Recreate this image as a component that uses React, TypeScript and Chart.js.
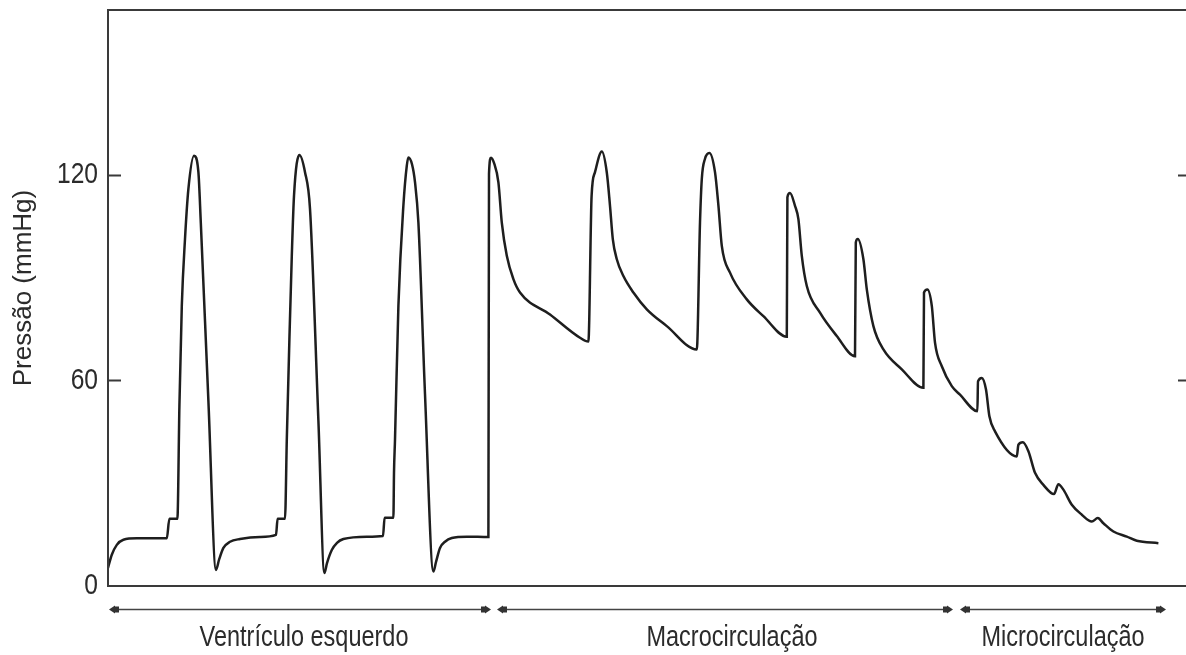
import React, { useEffect, useRef } from "react";
import { Chart, registerables } from "chart.js";

Chart.register(...registerables);

// time in ms, pressure in mmHg
const lvTime = [0, 19, 44, 77, 144, 294, 307, 347, 357, 369, 385, 402, 430, 452, 464, 502, 540, 555, 577, 610, 660, 760, 840, 848, 885, 894, 907, 919, 930, 957, 985, 1010, 1052, 1082, 1095, 1119, 1145, 1177, 1294, 1375, 1383, 1427, 1430, 1435, 1452, 1477, 1494, 1502, 1520, 1535, 1552, 1585, 1627, 1640, 1660, 1685, 1719, 1794, 1902];
const lvPressure = [5.3, 9.1, 12.0, 13.5, 13.9, 13.9, 19.6, 19.6, 52.4, 81.7, 101.2, 115.8, 125.5, 120.7, 106, 54, 4.7, 7.6, 11.1, 12.9, 13.7, 14.3, 14.9, 19.6, 19.6, 42.7, 72, 96.3, 113.8, 125.7, 120.7, 110, 48.2, 3.8, 6.7, 10.5, 12.6, 13.7, 14.4, 14.6, 19.9, 19.9, 33, 42.7, 81.7, 111, 122.6, 125, 123, 117.8, 106, 56, 4.2, 7, 11.1, 12.9, 14, 14.4, 14.3];

const macroTime = [1905, 1915, 1930, 1952, 1969, 1994, 2027, 2060, 2210, 2360, 2402, 2418, 2435, 2469, 2494, 2510, 2524, 2544, 2577, 2627, 2694, 2794, 2944, 2960, 2969, 2985, 3007, 3035, 3052, 3069, 3110, 3194, 3277, 3394, 3397, 3410, 3435, 3452, 3469, 3494, 3560, 3644, 3735, 3739, 3749, 3777, 3794, 3827, 3877, 3969, 4077, 4080, 4097, 4119, 4135, 4169, 4219, 4260];
const macroPressure = [120.2, 124.9, 123.4, 117.7, 106, 96.3, 89.5, 85.6, 79.2, 72.4, 71.3, 113.8, 120.7, 126.7, 120.6, 110.9, 101.2, 95.3, 90.4, 85.6, 80.7, 75.8, 69, 106, 118.7, 124.6, 126.3, 120.7, 111, 99.2, 91.4, 83.6, 78.7, 72.7, 113.4, 114.6, 110.9, 107, 96.3, 87.5, 79.7, 72.9, 67, 100.2, 101.2, 95.3, 86.5, 75.8, 69, 63.2, 57.8, 85.6, 86.5, 81.7, 71, 64.1, 58.3, 55.8];

const microTime = [4347, 4350, 4369, 4390, 4407, 4435, 4544, 4552, 4574, 4602, 4635, 4677, 4730, 4752, 4777, 4819, 4869, 4919, 4949, 4977, 5027, 5094, 5144, 5252];
const microPressure = [51, 59.7, 60.7, 57.3, 49.5, 45.1, 37.8, 41.2, 41.9, 39.3, 33, 29.5, 26.8, 29.7, 28.1, 23.7, 20.8, 18.8, 19.8, 18.3, 15.9, 14.4, 13.2, 12.5];

const yTicks = [0, 60, 120];
const yTitle = "Pressão (mmHg)";
const regionLabels = ["Ventrículo esquerdo", "Macrocirculação", "Microcirculação"];
const regionStart = [5, 1945, 4260];
const regionEnd = [1915, 4225, 5290];
const regionLabelCenter = [980, 3120, 4775];

const SANS = "'Liberation Sans', Arial, sans-serif";
const TEXT = "#2b2b2b";

function arrowHead(ctx: CanvasRenderingContext2D, tipX: number, y: number, dir: number) {
  ctx.beginPath();
  ctx.moveTo(tipX, y);
  ctx.lineTo(tipX - dir * 6, y - 4);
  ctx.lineTo(tipX - dir * 6, y + 4);
  ctx.closePath();
  ctx.fill();
  const rx = dir < 0 ? tipX + 5 : tipX - 10;
  ctx.fillRect(rx, y - 3, 5, 6);
}

function narrowText(ctx: CanvasRenderingContext2D, text: string, x: number, y: number, size: number, align: CanvasTextAlign, baseline: CanvasTextBaseline, squeeze: number) {
  ctx.save();
  ctx.translate(x, y);
  ctx.scale(squeeze, 1);
  ctx.font = `${size}px ${SANS}`;
  ctx.fillStyle = TEXT;
  ctx.textAlign = align;
  ctx.textBaseline = baseline;
  ctx.fillText(text, 0, 0);
  ctx.restore();
}

const framePlugin = {
  id: "frame",
  afterDraw(chart: any) {
    const { ctx, chartArea, scales } = chart;
    const { left, right, top, bottom } = chartArea;
    const x = scales.x;
    const y = scales.y;
    ctx.save();
    ctx.strokeStyle = "#3a3a3a";
    ctx.lineWidth = 2;
    ctx.beginPath();
    ctx.moveTo(left, top);
    ctx.lineTo(right, top);
    ctx.lineTo(right, bottom);
    ctx.lineTo(left, bottom);
    ctx.closePath();
    for (const v of yTicks) {
      if (v === 0) continue;
      const py = Math.round(y.getPixelForValue(v)) + 0.5;
      ctx.moveTo(left, py);
      ctx.lineTo(left + 13, py);
      ctx.moveTo(right, py);
      ctx.lineTo(right - 13, py);
    }
    ctx.stroke();

    // tick labels
    for (const v of yTicks) {
      narrowText(ctx, String(v), left - 10, y.getPixelForValue(v), 30, "right", "middle", 0.82);
    }

    // region arrows
    const ay = bottom + 23.5;
    ctx.strokeStyle = "#444";
    ctx.fillStyle = "#333";
    ctx.lineWidth = 1.5;
    for (let i = 0; i < regionLabels.length; i++) {
      const x0 = x.getPixelForValue(regionStart[i]);
      const x1 = x.getPixelForValue(regionEnd[i]);
      ctx.beginPath();
      ctx.moveTo(x0 + 4, ay);
      ctx.lineTo(x1 - 4, ay);
      ctx.stroke();
      ctx.fillStyle = "#333";
      arrowHead(ctx, x0, ay, -1);
      arrowHead(ctx, x1, ay, 1);
      narrowText(ctx, regionLabels[i], x.getPixelForValue(regionLabelCenter[i]), bottom + 60, 29, "center", "alphabetic", 0.81);
    }

    // y title
    ctx.save();
    ctx.translate(24, (top + bottom) / 2 - 10);
    ctx.rotate(-Math.PI / 2);
    ctx.font = `26px ${SANS}`;
    ctx.fillStyle = TEXT;
    ctx.textAlign = "center";
    ctx.textBaseline = "middle";
    ctx.fillText(yTitle, 0, 0);
    ctx.restore();
    ctx.restore();
  },
};

export default function App() {
  const canvasRef = useRef<HTMLCanvasElement | null>(null);

  useEffect(() => {
    const canvas = canvasRef.current;
    if (!canvas) return;
    const points = [
      ...lvTime.map((t, i) => ({ x: t, y: lvPressure[i] })),
      ...macroTime.map((t, i) => ({ x: t, y: macroPressure[i] })),
      ...microTime.map((t, i) => ({ x: t, y: microPressure[i] })),
    ];
    const chart = new Chart(canvas, {
      type: "line",
      data: {
        datasets: [
          {
            data: points,
            borderColor: "#1e1e1e",
            borderWidth: 2.5,
            pointRadius: 0,
            fill: false,
            cubicInterpolationMode: "monotone",
          },
        ],
      },
      options: {
        animation: false,
        responsive: false,
        maintainAspectRatio: false,
        layout: { padding: { left: 108, top: 10, right: 9, bottom: 69 } },
        plugins: { legend: { display: false }, tooltip: { enabled: false } },
        scales: {
          x: { type: "linear", min: 0, max: 5415, display: false },
          y: { type: "linear", min: 0, max: 168, display: false },
        },
      } as any,
      plugins: [framePlugin],
    });
    return () => chart.destroy();
  }, []);

  return (
    <div style={{ position: "fixed", left: 0, top: 0, width: 1186, height: 655, overflow: "hidden", background: "#fff" }}>
      <canvas ref={canvasRef} width={1200} height={655} style={{ display: "block", width: 1200, height: 655 }} />
    </div>
  );
}
